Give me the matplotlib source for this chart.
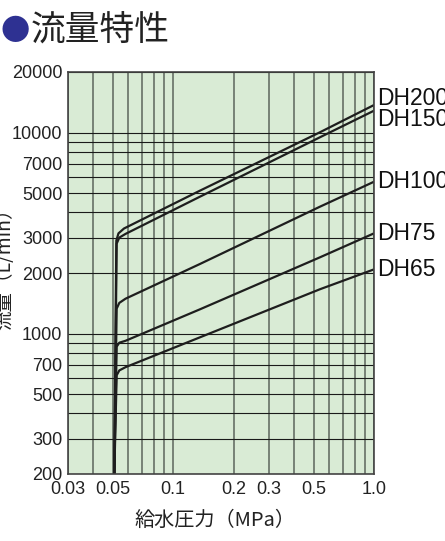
import matplotlib
matplotlib.use("Agg")
import matplotlib.pyplot as plt
from matplotlib.ticker import FixedLocator, NullFormatter

plt.rcParams['font.family'] = ['Liberation Sans', 'Noto Sans CJK JP', 'DejaVu Sans']

# Pressure (MPa) / flow (L/min) points
series_names = ['DH200', 'DH150', 'DH100', 'DH75', 'DH65']
pressure = {
    'DH200': [0.051, 0.0522, 0.0535, 0.057, 0.136, 0.538, 1.0],
    'DH150': [0.051, 0.0524, 0.054, 0.058, 0.136, 0.538, 1.0],
    'DH100': [0.051, 0.0524, 0.054, 0.058, 0.136, 0.538, 1.0],
    'DH75':  [0.051, 0.0524, 0.054, 0.058, 0.136, 0.538, 1.0],
    'DH65':  [0.051, 0.0524, 0.054, 0.058, 0.136, 0.538, 1.0],
}
flow = {
    'DH200': [200, 2900, 3150, 3330, 5135, 10025, 13700],
    'DH150': [200, 2800, 3000, 3130, 4793, 9466, 12840],
    'DH100': [200, 1330, 1420, 1490, 2217, 4274, 5690],
    'DH75':  [200, 860, 900, 920, 1319, 2393, 3150],
    'DH65':  [200, 620, 655, 680, 957, 1660, 2085],
}

x_ticks = [0.03, 0.05, 0.1, 0.2, 0.3, 0.5, 1.0]
x_tick_labels = ['0.03', '0.05', '0.1', '0.2', '0.3', '0.5', '1.0']
y_ticks = [200, 300, 500, 700, 1000, 2000, 3000, 5000, 7000, 10000, 20000]
y_tick_labels = ['200', '300', '500', '700', '1000', '2000', '3000', '5000', '7000', '10000', '20000']
x_grid = [0.03, 0.04, 0.05, 0.06, 0.07, 0.08, 0.09, 0.1, 0.2, 0.3, 0.4, 0.5, 0.6, 0.7, 0.8, 0.9, 1.0]
y_grid = [200, 300, 400, 500, 600, 700, 800, 900, 1000, 2000, 3000, 4000, 5000,
          6000, 7000, 8000, 9000, 10000, 20000]

# label offsets (points) so DH200 / DH150 don't overlap
label_dy = {'DH200': 5, 'DH150': -6.5, 'DH100': 0, 'DH75': 0, 'DH65': 0}

fig = plt.figure(figsize=(4.45, 5.41), dpi=100)
ax = fig.add_axes([68 / 445, 1 - 474 / 541, 306 / 445, 402 / 541])
ax.set_facecolor('#d9ebd5')
ax.set_xscale('log')
ax.set_yscale('log')
ax.set_xlim(0.03, 1.0)
ax.set_ylim(200, 20000)

# grid
ax.xaxis.set_minor_locator(FixedLocator(x_grid))
ax.yaxis.set_minor_locator(FixedLocator(y_grid))
ax.xaxis.set_minor_formatter(NullFormatter())
ax.yaxis.set_minor_formatter(NullFormatter())
ax.set_xticks(x_ticks)
ax.set_xticklabels(x_tick_labels, family=['Liberation Sans Narrow', 'Liberation Sans'])
ax.set_yticks(y_ticks)
ax.set_yticklabels(y_tick_labels)
ax.xaxis.grid(True, which='both', color='#6f7a6f', lw=1.3)
ax.yaxis.grid(True, which='both', color='#1a1a1a', lw=0.8)
ax.set_axisbelow(True)
ax.tick_params(which='both', length=0, labelsize=13, colors='#222222')
ax.tick_params(axis='x', pad=5)
ax.tick_params(axis='y', pad=4)
for s in ax.spines.values():
    s.set_color('#444444')
    s.set_linewidth(1.2)

for name in series_names:
    ax.plot(pressure[name], flow[name], color='#1e1e1e', lw=1.6, solid_capstyle='butt')
    ax.annotate(name, xy=(1.0, flow[name][-1]), xytext=(2, label_dy[name]),
                textcoords='offset points', ha='left', va='center',
                fontsize=16.5, color='#111111', annotation_clip=False)

# titles and axis labels
cjk = ['Noto Sans CJK JP', 'DejaVu Sans']
fig.text(1 / 445, 1 - 32 / 541, '●', fontsize=21, color='#2e3192',
         ha='left', va='center', family=cjk)
fig.text(31 / 445, 1 - 31 / 541, '流量特性', fontsize=25, color='#222222',
         ha='left', va='center', family=cjk)
fig.text(215 / 445, 1 - 520 / 541, '給水圧力（MPa）', fontsize=14.5, color='#222222',
         ha='center', va='center', family=cjk)
fig.text(5 / 445, 1 - 264 / 541, '流量（L/min）', fontsize=14, color='#222222',
         ha='center', va='center', rotation=90, family=cjk)

fig.savefig('out.png', dpi=100)
